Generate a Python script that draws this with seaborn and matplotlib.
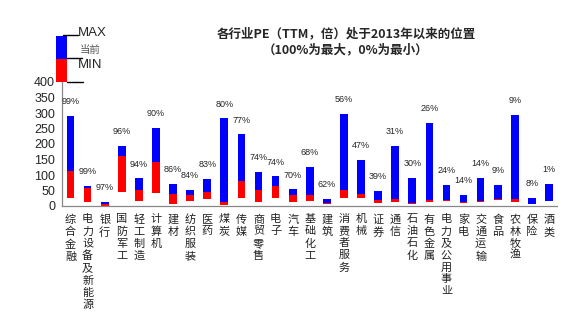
import numpy as np
import pandas as pd
import matplotlib
matplotlib.use("Agg")
import matplotlib.pyplot as plt
import seaborn as sns
from matplotlib.patches import Rectangle
from matplotlib.lines import Line2D

categories = ["综合金融", "电力设备及新能源", "银行", "国防军工", "轻工制造", "计算机", "建材",
              "纺织服装", "医药", "煤炭", "传媒", "商贸零售", "电子", "汽车", "基础化工", "建筑",
              "消费者服务", "机械", "证券", "通信", "石油石化", "有色金属", "电力及公用事业",
              "家电", "交通运输", "食品", "农林牧渔", "保险", "酒类"]
pe_min = [25, 13, 1, 45, 17, 42, 7, 17, 22, 4, 26, 14, 26, 14, 17, 8,
          26, 26, 9, 14, 7, 14, 17, 10, 14, 20, 14, 7, 16]
pe_cur = [113, 58, 7, 161, 53, 142, 38, 35, 45, 12, 82, 53, 63, 35, 36, 11,
          52, 39, 20, 22, 10, 20, 19, 14, 16, 23, 21, 8, 17]
pe_max = [290, 66, 13, 195, 89, 252, 71, 51, 87, 283, 231, 109, 96, 54, 127, 23,
          298, 148, 48, 195, 90, 268, 68, 35, 90, 68, 295, 26, 71]
pct_labels = ["99%", "99%", "97%", "96%", "94%", "90%", "86%", "84%", "83%", "80%", "77%",
              "74%", "74%", "70%", "68%", "62%", "56%", "47%", "39%", "31%", "30%", "26%",
              "24%", "14%", "14%", "9%", "9%", "8%", "1%"]
yticks = [0, 50, 100, 150, 200, 250, 300, 350, 400]
title_text = "各行业PE（TTM，倍）处于2013年以来的位置\n（100%为最大，0%为最小）"

sns.set_style("white")
plt.rcParams['font.family'] = ['Noto Sans CJK SC', 'DejaVu Sans']

W, H = 568, 331
fig = plt.figure(figsize=(W / 100, H / 100), dpi=100)
ax = fig.add_axes([62 / W, 1 - 206 / H, (557.5 - 62) / W, (206 - 82) / H])

df = pd.DataFrame({
    "cat": categories,
    "lo": np.array(pe_min, float),
    "cur": np.array(pe_cur, float),
    "hi": np.array(pe_max, float),
})
df["red_h"] = df["cur"] - df["lo"]
df["blue_h"] = df["hi"] - df["cur"]

sns.barplot(data=df, x="cat", y="red_h", bottom=df["lo"].values, color="#FF0000",
            width=0.45, saturation=1, linewidth=0, ax=ax)
sns.barplot(data=df, x="cat", y="blue_h", bottom=df["cur"].values, color="#0000FF",
            width=0.45, saturation=1, linewidth=0, ax=ax)

for i, (lab, top) in enumerate(zip(pct_labels, pe_max)):
    ax.annotate(lab, xy=(i, top), xytext=(0, 7), textcoords="offset points",
                ha="center", va="bottom", fontsize=6.5, family="Liberation Sans")

ax.set_ylim(0, 400)
ax.set_xlim(-0.5, len(categories) - 0.5)
ax.set_yticks(yticks)
ax.set_yticklabels([str(v) for v in yticks], family="Liberation Sans", fontsize=9)
ax.set_xticks(range(len(categories)))
ax.set_xticklabels(["\n".join(c) for c in categories], fontsize=8, linespacing=1.25,
                   va="top", color="#222222")
ax.set_xticks(np.arange(len(categories) + 1) - 0.5, minor=True)
ax.tick_params(axis="x", which="major", length=0, pad=6)
ax.tick_params(axis="x", which="minor", length=4, direction="out", color="#888888", width=0.8)
ax.tick_params(axis="y", length=3, direction="out", color="#888888", width=0.8, pad=2)
ax.set_xlabel("")
ax.set_ylabel("")
for s in ["top", "right"]:
    ax.spines[s].set_visible(False)
for s in ["left", "bottom"]:
    ax.spines[s].set_color("#888888")
    ax.spines[s].set_linewidth(0.9)

# legend drawn as a small annotated bar
def fx(x):
    return x / W

def fy(y):
    return 1 - y / H

fig.patches.append(Rectangle((fx(56), fy(59)), (67 - 56) / W, (59 - 36) / H,
                             transform=fig.transFigure, color="#0000FF", lw=0))
fig.patches.append(Rectangle((fx(56), fy(82)), (67 - 56) / W, (82 - 59) / H,
                             transform=fig.transFigure, color="#FF0000", lw=0))
for x0, x1, yy in [(63, 78, 35), (67, 82, 57.5), (67, 83, 82)]:
    fig.lines.append(Line2D([fx(x0), fx(x1)], [fy(yy), fy(yy)], transform=fig.transFigure,
                            color="black", lw=1))
fig.text(fx(78), fy(33), "MAX", fontsize=9.5, family="Liberation Sans", va="center", ha="left")
fig.text(fx(80), fy(50), "当前", fontsize=7.5, color="#555555", va="center", ha="left")
fig.text(fx(78), fy(65), "MIN", fontsize=9.5, family="Liberation Sans", va="center", ha="left")

fig.text(fx(346), fy(42), title_text, ha="center", va="center", fontsize=9,
         fontweight="bold", linespacing=1.3)

fig.savefig("out.png", dpi=100)
